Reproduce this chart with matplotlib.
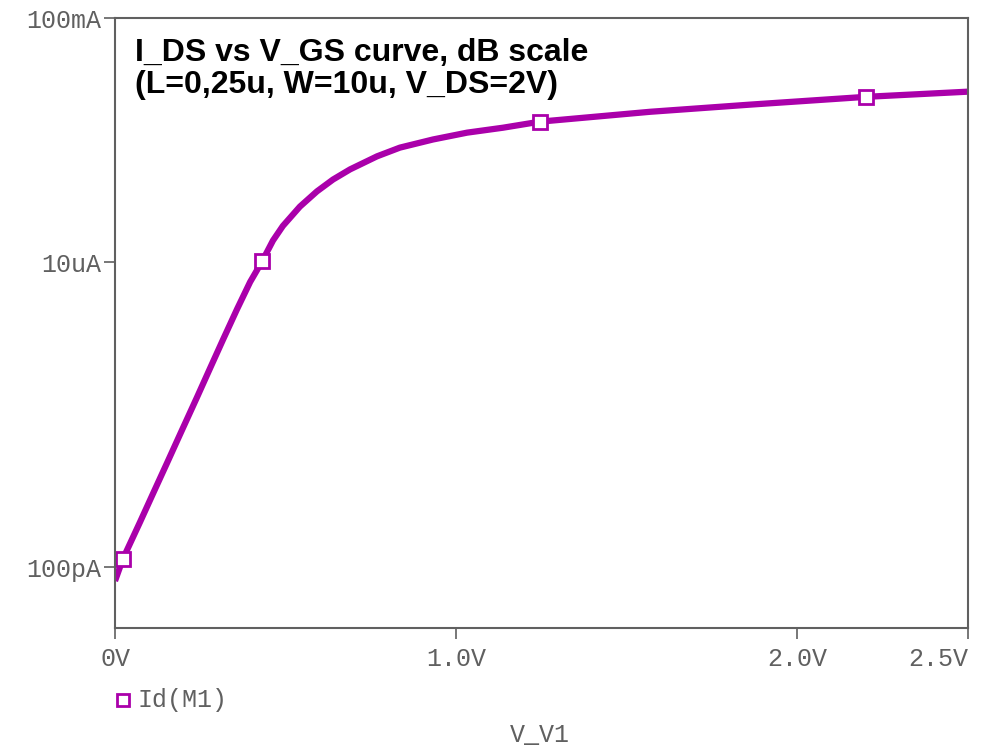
import matplotlib
matplotlib.use("Agg")
import matplotlib.pyplot as plt
from matplotlib.lines import Line2D
from matplotlib.ticker import FixedLocator, NullLocator

# kurva Id(M1) terhadap V_V1
v_gs = [0.0, 0.023, 0.073, 0.111, 0.152, 0.191, 0.240, 0.278, 0.317, 0.358,
        0.396, 0.431, 0.463, 0.492, 0.542, 0.592, 0.639, 0.689, 0.768, 0.835,
        0.932, 1.032, 1.137, 1.246, 1.568, 1.861, 2.201, 2.50]
i_ds = [5.9e-11, 1.35e-10, 5.4e-10, 1.58e-09, 5.0e-09, 1.51e-08, 6.0e-08,
        1.78e-07, 5.4e-07, 1.7e-06, 4.7e-06, 1.02e-05, 2.25e-05, 3.9e-05,
        8.1e-05, 1.44e-04, 2.25e-04, 3.3e-04, 5.4e-04, 7.5e-04, 1.02e-03,
        1.32e-03, 1.59e-03, 2.0e-03, 2.9e-03, 3.8e-03, 5.1e-03, 6.2e-03]

# titik penanda
mark_v = [0.023, 0.431, 1.246, 2.201]
mark_i = [1.35e-10, 1.02e-05, 2.0e-03, 5.1e-03]

y_ticks = [1e-10, 1e-5, 1e-1]
y_labels = ["100pA", "10uA", "100mA"]
x_ticks = [0.0, 1.0, 2.0, 2.5]
x_labels = ["0V", "1.0V", "2.0V", "2.5V"]

warna = "#aa00aa"
abu = "#606060"
mono = "Liberation Mono"

fig = plt.figure(figsize=(9.81, 7.49), dpi=100)
ax = fig.add_axes([115 / 981, 1 - 628 / 749, 853 / 981, 610 / 749])

ax.plot(v_gs, i_ds, color=warna, linewidth=4.5, solid_capstyle="butt",
        solid_joinstyle="round")
ax.plot(mark_v, mark_i, linestyle="none", marker="s", markersize=10,
        markerfacecolor="white", markeredgecolor=warna, markeredgewidth=2)

ax.set_yscale("log")
ax.set_xlim(0, 2.5)
ax.set_ylim(1e-11, 1e-1)

ax.yaxis.set_major_locator(FixedLocator(y_ticks))
ax.yaxis.set_minor_locator(NullLocator())
ax.set_yticklabels(y_labels)
ax.xaxis.set_major_locator(FixedLocator(x_ticks))
ax.set_xticklabels(x_labels)

ax.tick_params(axis="both", direction="out", length=8, width=1.2, color=abu,
               labelcolor=abu, labelsize=18)
ax.tick_params(axis="y", pad=2)
ax.tick_params(axis="x", pad=6)
for lbl in ax.get_xticklabels() + ax.get_yticklabels():
    lbl.set_fontfamily(mono)
ax.get_xticklabels()[-1].set_horizontalalignment("right")
ax.get_xticklabels()[-1].set_x(2.505)

for s in ax.spines.values():
    s.set_color(abu)
    s.set_linewidth(1.5)

ax.text(0.023, 0.968, "I_DS vs V_GS curve, dB scale\n(L=0,25u, W=10u, V_DS=2V)",
        transform=ax.transAxes, ha="left", va="top", fontsize=23,
        fontweight="bold", family="Liberation Sans", linespacing=1.1)

# legenda
fig.add_artist(Line2D([123 / 981], [1 - 700 / 749], transform=fig.transFigure,
                      marker="s", markersize=9, markerfacecolor="white",
                      markeredgecolor=warna, markeredgewidth=2, linestyle="none"))
fig.text(138 / 981, 1 - 700 / 749, "Id(M1)", color=abu, fontsize=18,
         ha="left", va="center", family=mono)
fig.text(540 / 981, 1 - 735 / 749, "V_V1", color=abu, fontsize=18,
         ha="center", va="center", family=mono)

fig.savefig("out.png", dpi=100)
